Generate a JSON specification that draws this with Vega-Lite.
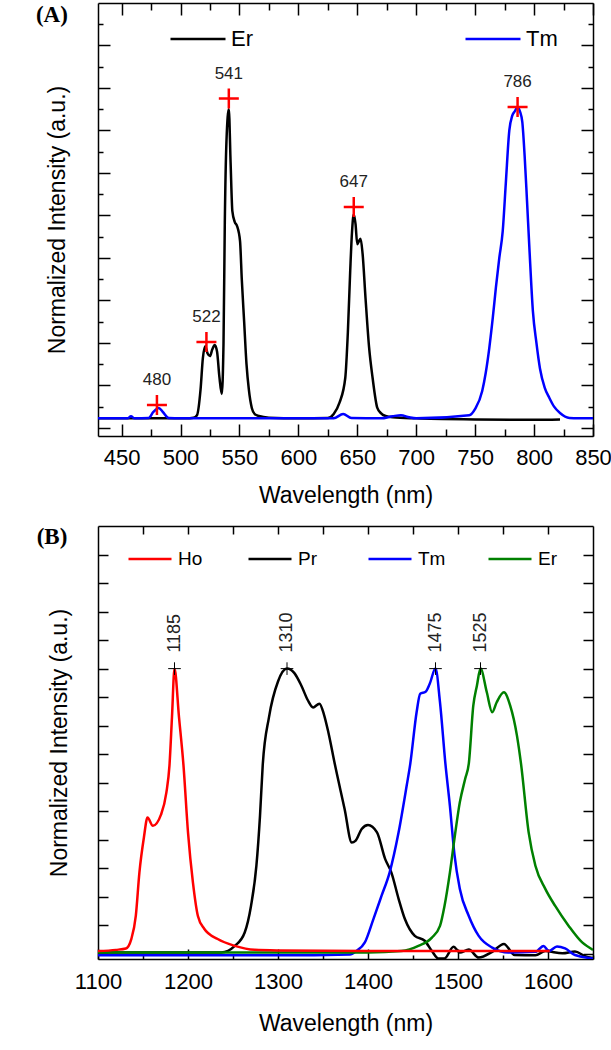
{
  "$schema": "https://vega.github.io/schema/vega-lite/v6.json",
  "padding": {"left": 35, "top": 2, "right": 2, "bottom": 2},
  "background": "white",
  "config": {
    "view": {"stroke": null},
    "axis": {"grid": false, "domainColor": "#000", "domainWidth": 1.5, "tickColor": "#000", "tickWidth": 1.5,
      "labelFont": "Liberation Sans", "labelFontSize": 22, "labelColor": "#000", "labelFlush": false, "labelOverlap": false, "labelBound": false,
      "titleFont": "Liberation Sans", "titleFontSize": 23, "titleFontWeight": "normal", "titleColor": "#000"},
    "legend": {"labelFont": "Liberation Sans", "labelColor": "#000"},
    "text": {"font": "Liberation Sans"}
  },
  "spacing": 18,
  "resolve": {"scale": {"color": "independent"}, "legend": {"color": "independent"}},
  "datasets": {
    "A": [
      {"s":"Er","x":430,"y":0.45},{"s":"Er","x":480,"y":0.45},{"s":"Er","x":505,"y":0.45},{"s":"Er","x":511,"y":0.48},{"s":"Er","x":514,"y":0.6},{"s":"Er","x":517,"y":1.8},{"s":"Er","x":519,"y":3.3},{"s":"Er","x":521,"y":3.85},{"s":"Er","x":523,"y":3.5},{"s":"Er","x":525,"y":3.38},{"s":"Er","x":527,"y":3.7},{"s":"Er","x":529,"y":3.9},{"s":"Er","x":531,"y":3.6},{"s":"Er","x":533,"y":2.4},{"s":"Er","x":535,"y":1.6},{"s":"Er","x":536.5,"y":4.0},{"s":"Er","x":537.6,"y":9.7},{"s":"Er","x":539,"y":13.5},{"s":"Er","x":541,"y":15.0},{"s":"Er","x":542.5,"y":12.5},{"s":"Er","x":544,"y":10.2},{"s":"Er","x":546,"y":9.7},{"s":"Er","x":548,"y":9.5},{"s":"Er","x":550.5,"y":8.8},{"s":"Er","x":552,"y":7.0},{"s":"Er","x":554,"y":5.0},{"s":"Er","x":556,"y":3.0},{"s":"Er","x":558,"y":1.8},{"s":"Er","x":560.5,"y":0.94},{"s":"Er","x":563,"y":0.65},{"s":"Er","x":566.5,"y":0.56},{"s":"Er","x":575,"y":0.48},{"s":"Er","x":600,"y":0.45},{"s":"Er","x":625,"y":0.47},{"s":"Er","x":630,"y":0.66},{"s":"Er","x":635,"y":1.2},{"s":"Er","x":639.8,"y":2.35},{"s":"Er","x":642,"y":4.5},{"s":"Er","x":644,"y":7.4},{"s":"Er","x":645.5,"y":9.2},{"s":"Er","x":647,"y":10.06},{"s":"Er","x":648.5,"y":9.6},{"s":"Er","x":650,"y":8.65},{"s":"Er","x":651.5,"y":8.8},{"s":"Er","x":652.8,"y":8.9},{"s":"Er","x":654.5,"y":8.2},{"s":"Er","x":657,"y":6.1},{"s":"Er","x":660,"y":3.8},{"s":"Er","x":663,"y":2.35},{"s":"Er","x":667,"y":0.94},{"s":"Er","x":670,"y":0.7},{"s":"Er","x":674,"y":0.56},{"s":"Er","x":680,"y":0.5},{"s":"Er","x":700,"y":0.45},{"s":"Er","x":750,"y":0.4},{"s":"Er","x":800,"y":0.38},{"s":"Er","x":822,"y":0.4},
      {"s":"Tm","x":430,"y":0.45},{"s":"Tm","x":455,"y":0.45},{"s":"Tm","x":458,"y":0.55},{"s":"Tm","x":461,"y":0.45},{"s":"Tm","x":473,"y":0.47},{"s":"Tm","x":477,"y":0.75},{"s":"Tm","x":481.5,"y":0.94},{"s":"Tm","x":485,"y":0.75},{"s":"Tm","x":490,"y":0.47},{"s":"Tm","x":500,"y":0.45},{"s":"Tm","x":600,"y":0.45},{"s":"Tm","x":630,"y":0.45},{"s":"Tm","x":638,"y":0.66},{"s":"Tm","x":645,"y":0.47},{"s":"Tm","x":670,"y":0.45},{"s":"Tm","x":680,"y":0.55},{"s":"Tm","x":687,"y":0.6},{"s":"Tm","x":694,"y":0.5},{"s":"Tm","x":700,"y":0.45},{"s":"Tm","x":745,"y":0.6},{"s":"Tm","x":750,"y":0.9},{"s":"Tm","x":756,"y":1.74},{"s":"Tm","x":759,"y":2.6},{"s":"Tm","x":762,"y":3.76},{"s":"Tm","x":765,"y":5.2},{"s":"Tm","x":767.6,"y":6.6},{"s":"Tm","x":770.5,"y":8.0},{"s":"Tm","x":773.4,"y":9.26},{"s":"Tm","x":776,"y":11.5},{"s":"Tm","x":779,"y":14.0},{"s":"Tm","x":781.5,"y":14.7},{"s":"Tm","x":783.6,"y":14.9},{"s":"Tm","x":786,"y":15.1},{"s":"Tm","x":788,"y":14.9},{"s":"Tm","x":790,"y":14.4},{"s":"Tm","x":792,"y":12.8},{"s":"Tm","x":794,"y":10.7},{"s":"Tm","x":796,"y":8.5},{"s":"Tm","x":799,"y":5.5},{"s":"Tm","x":802,"y":4.0},{"s":"Tm","x":805,"y":2.8},{"s":"Tm","x":809,"y":1.9},{"s":"Tm","x":813,"y":1.41},{"s":"Tm","x":817,"y":1.0},{"s":"Tm","x":822,"y":0.7},{"s":"Tm","x":830,"y":0.47},{"s":"Tm","x":850,"y":0.45}
    ],
    "Apk": [
      {"x":480,"y":1.08,"t":"480"},{"x":522,"y":4.04,"t":"522"},{"x":541,"y":15.5,"t":"541"},{"x":647,"y":10.4,"t":"647"},{"x":786,"y":15.1,"t":"786"}
    ],
    "Alab": [{"x":390.9,"y":19.42,"t":"(A)"}],
    "B": [
      {"s":"Pr","x":1100,"y":0.05},{"s":"Pr","x":1200,"y":0.05},{"s":"Pr","x":1237,"y":0.05},{"s":"Pr","x":1252,"y":0.28},{"s":"Pr","x":1263,"y":0.75},{"s":"Pr","x":1270,"y":1.68},{"s":"Pr","x":1276,"y":3.09},{"s":"Pr","x":1280,"y":4.84},{"s":"Pr","x":1283,"y":6.6},{"s":"Pr","x":1290,"y":8.3},{"s":"Pr","x":1300,"y":9.55},{"s":"Pr","x":1310,"y":10},{"s":"Pr","x":1318,"y":9.85},{"s":"Pr","x":1326,"y":9.4},{"s":"Pr","x":1333,"y":8.9},{"s":"Pr","x":1339,"y":8.64},{"s":"Pr","x":1346,"y":8.77},{"s":"Pr","x":1351,"y":8.4},{"s":"Pr","x":1356,"y":7.76},{"s":"Pr","x":1363,"y":6.67},{"s":"Pr","x":1374,"y":5.08},{"s":"Pr","x":1382,"y":3.9},{"s":"Pr","x":1386,"y":3.96},{"s":"Pr","x":1393,"y":4.38},{"s":"Pr","x":1400,"y":4.52},{"s":"Pr","x":1410,"y":4.26},{"s":"Pr","x":1419,"y":3.33},{"s":"Pr","x":1426,"y":2.85},{"s":"Pr","x":1434,"y":1.93},{"s":"Pr","x":1441,"y":1.22},{"s":"Pr","x":1452,"y":0.63},{"s":"Pr","x":1463,"y":0.46},{"s":"Pr","x":1471,"y":0.1},{"s":"Pr","x":1478,"y":-0.16},{"s":"Pr","x":1485,"y":-0.16},{"s":"Pr","x":1495,"y":0.25},{"s":"Pr","x":1502,"y":0.05},{"s":"Pr","x":1512,"y":0.15},{"s":"Pr","x":1523,"y":-0.13},{"s":"Pr","x":1538,"y":0.07},{"s":"Pr","x":1551,"y":0.35},{"s":"Pr","x":1563,"y":-0.04},{"s":"Pr","x":1586,"y":-0.05},{"s":"Pr","x":1597,"y":0.1},{"s":"Pr","x":1616,"y":0.02},{"s":"Pr","x":1630,"y":0.08},{"s":"Pr","x":1641,"y":-0.08},{"s":"Pr","x":1650,"y":-0.15},
      {"s":"Tm","x":1100,"y":-0.05},{"s":"Tm","x":1300,"y":-0.05},{"s":"Tm","x":1380,"y":-0.02},{"s":"Tm","x":1387,"y":0.1},{"s":"Tm","x":1396.5,"y":0.4},{"s":"Tm","x":1406,"y":1.22},{"s":"Tm","x":1415,"y":2.03},{"s":"Tm","x":1424,"y":2.85},{"s":"Tm","x":1434,"y":4.26},{"s":"Tm","x":1443,"y":5.9},{"s":"Tm","x":1447,"y":6.67},{"s":"Tm","x":1454,"y":8.47},{"s":"Tm","x":1458,"y":9.12},{"s":"Tm","x":1464,"y":9.19},{"s":"Tm","x":1468.6,"y":9.47},{"s":"Tm","x":1475,"y":10},{"s":"Tm","x":1480,"y":8.82},{"s":"Tm","x":1486,"y":6.67},{"s":"Tm","x":1491,"y":5.19},{"s":"Tm","x":1496,"y":3.5},{"s":"Tm","x":1502,"y":2.28},{"s":"Tm","x":1512,"y":1.33},{"s":"Tm","x":1523,"y":0.63},{"s":"Tm","x":1538,"y":0.22},{"s":"Tm","x":1556,"y":0.05},{"s":"Tm","x":1586,"y":0.07},{"s":"Tm","x":1595,"y":0.28},{"s":"Tm","x":1601,"y":0.1},{"s":"Tm","x":1610,"y":0.26},{"s":"Tm","x":1619,"y":0.19},{"s":"Tm","x":1630,"y":-0.04},{"s":"Tm","x":1650,"y":-0.16},
      {"s":"Er","x":1100,"y":0.05},{"s":"Er","x":1300,"y":0.05},{"s":"Er","x":1400,"y":0.05},{"s":"Er","x":1437,"y":0.1},{"s":"Er","x":1456,"y":0.28},{"s":"Er","x":1471,"y":0.57},{"s":"Er","x":1480,"y":0.98},{"s":"Er","x":1485,"y":1.68},{"s":"Er","x":1491,"y":2.85},{"s":"Er","x":1496.5,"y":4.14},{"s":"Er","x":1502,"y":5.31},{"s":"Er","x":1508,"y":6.14},{"s":"Er","x":1512,"y":6.67},{"s":"Er","x":1517,"y":8.7},{"s":"Er","x":1521,"y":9.4},{"s":"Er","x":1525,"y":10},{"s":"Er","x":1532,"y":9.17},{"s":"Er","x":1538,"y":8.47},{"s":"Er","x":1543,"y":8.82},{"s":"Er","x":1551,"y":9.17},{"s":"Er","x":1558,"y":8.7},{"s":"Er","x":1565.5,"y":7.65},{"s":"Er","x":1570,"y":6.67},{"s":"Er","x":1578.5,"y":4.26},{"s":"Er","x":1586,"y":3.09},{"s":"Er","x":1597,"y":2.28},{"s":"Er","x":1608,"y":1.68},{"s":"Er","x":1623,"y":0.98},{"s":"Er","x":1638,"y":0.4},{"s":"Er","x":1650,"y":0.14},
      {"s":"Ho","x":1100,"y":0.1},{"s":"Ho","x":1120,"y":0.14},{"s":"Ho","x":1131,"y":0.19},{"s":"Ho","x":1137,"y":0.52},{"s":"Ho","x":1142,"y":1.33},{"s":"Ho","x":1146,"y":2.85},{"s":"Ho","x":1151,"y":4.08},{"s":"Ho","x":1155,"y":4.78},{"s":"Ho","x":1161,"y":4.49},{"s":"Ho","x":1170,"y":4.88},{"s":"Ho","x":1176,"y":5.66},{"s":"Ho","x":1179.4,"y":6.6},{"s":"Ho","x":1182.2,"y":8.3},{"s":"Ho","x":1185,"y":10},{"s":"Ho","x":1190,"y":8.3},{"s":"Ho","x":1195,"y":6.6},{"s":"Ho","x":1200,"y":4.26},{"s":"Ho","x":1205.5,"y":2.5},{"s":"Ho","x":1211,"y":1.33},{"s":"Ho","x":1218,"y":0.88},{"s":"Ho","x":1233,"y":0.52},{"s":"Ho","x":1252,"y":0.28},{"s":"Ho","x":1274,"y":0.14},{"s":"Ho","x":1300,"y":0.12},{"s":"Ho","x":1400,"y":0.1},{"s":"Ho","x":1500,"y":0.1},{"s":"Ho","x":1602,"y":0.1}
    ],
    "Bpk": [
      {"x":1185,"y":10,"t":"1185"},{"x":1310,"y":10,"t":"1310"},{"x":1475,"y":10,"t":"1475"},{"x":1525,"y":10,"t":"1525"}
    ],
    "Blab": [{"x":1048.9,"y":14.61,"t":"(B)"}]
  },
  "vconcat": [
    {
      "width": 495, "height": 433,
      "resolve": {"axis": {"x": "independent", "y": "independent"}},
      "layer": [
        {
          "data": {"name": "A"},
          "mark": {"type": "line", "interpolate": "monotone", "strokeWidth": 2.5},
          "encoding": {
            "x": {"field": "x", "type": "quantitative", "scale": {"domain": [430, 850], "nice": false, "zero": false},
              "axis": {"orient": "bottom", "title": "Wavelength (nm)", "format": "d", "values": [450,475,500,525,550,575,600,625,650,675,700,725,750,775,800,825,850],
                "labelExpr": "datum.value % 50 === 0 ? datum.label : ''",
                "tickSize": {"condition": {"test": "datum.value % 50 === 0", "value": -12}, "value": -7},
                "labelPadding": 23, "titlePadding": 11}},
            "y": {"field": "y", "type": "quantitative", "scale": {"domain": [-0.38, 20], "nice": false, "zero": false},
              "axis": {"orient": "left", "title": "Normalized Intensity (a.u.)", "labels": false,
                "values": [0,1,2,3,4,5,6,7,8,9,10,11,12,13,14,15,16,17,18,19],
                "tickSize": {"condition": {"test": "datum.value % 2 === 0", "value": -12}, "value": -5},
                "titlePadding": 28}},
            "color": {"field": "s", "type": "nominal", "scale": {"domain": ["Er", "Tm"], "range": ["#000000", "#0000ff"]},
              "legend": {"orient": "none", "legendX": 71, "legendY": 7, "direction": "horizontal", "title": null,
                "symbolType": "stroke", "symbolSize": 3025, "symbolStrokeWidth": 2.5, "labelFontSize": 22,
                "labelOffset": 4, "columnPadding": 207, "padding": 0}}
          }
        },
        {
          "data": {"name": "Apk"},
          "mark": {"type": "point", "shape": "M-1,0L1,0M0,-1L0,1", "size": 400, "stroke": "#ff0000", "strokeWidth": 2.5, "filled": false, "opacity": 1},
          "encoding": {
            "x": {"field": "x", "type": "quantitative",
              "axis": {"orient": "top", "title": null, "labels": false, "values": [450,475,500,525,550,575,600,625,650,675,700,725,750,775,800,825,850],
                "tickSize": {"condition": {"test": "datum.value % 50 === 0", "value": -12}, "value": -7}}},
            "y": {"field": "y", "type": "quantitative",
              "axis": {"orient": "right", "title": null, "labels": false, "values": [0,1,2,3,4,5,6,7,8,9,10,11,12,13,14,15,16,17,18,19],
                "tickSize": {"condition": {"test": "datum.value % 2 === 0", "value": -12}, "value": -5}}}
          }
        },
        {
          "data": {"name": "Apk"},
          "mark": {"type": "text", "dy": -25, "fontSize": 17, "color": "#222"},
          "encoding": {
            "x": {"field": "x", "type": "quantitative", "axis": null},
            "y": {"field": "y", "type": "quantitative", "axis": null},
            "text": {"field": "t"}
          }
        },
        {
          "data": {"name": "Alab"},
          "mark": {"type": "text", "font": "Liberation Serif", "fontWeight": "bold", "fontSize": 23, "color": "#000"},
          "encoding": {
            "x": {"field": "x", "type": "quantitative", "axis": null},
            "y": {"field": "y", "type": "quantitative", "axis": null},
            "text": {"field": "t"}
          }
        }
      ]
    },
    {
      "width": 495, "height": 433,
      "resolve": {"axis": {"x": "independent", "y": "independent"}},
      "layer": [
        {
          "data": {"name": "B"},
          "mark": {"type": "line", "interpolate": "monotone", "strokeWidth": 2.5, "clip": true},
          "encoding": {
            "x": {"field": "x", "type": "quantitative", "scale": {"domain": [1100, 1650], "nice": false, "zero": false},
              "axis": {"orient": "bottom", "title": "Wavelength (nm)", "format": "d", "values": [1100,1150,1200,1250,1300,1350,1400,1450,1500,1550,1600,1650],
                "labelExpr": "datum.value % 100 === 0 ? datum.label : ''",
                "tickSize": {"condition": {"test": "datum.value % 100 === 0", "value": -10}, "value": -4},
                "labelPadding": 22, "titlePadding": 14}},
            "y": {"field": "y", "type": "quantitative", "scale": {"domain": [-0.18, 15], "nice": false, "zero": false},
              "axis": {"orient": "left", "title": "Normalized Intensity (a.u.)", "labels": false,
                "values": [0,1,2,3,4,5,6,7,8,9,10,11,12,13,14], "tickSize": -10, "titlePadding": 26}},
            "color": {"field": "s", "type": "nominal", "scale": {"domain": ["Ho", "Pr", "Tm", "Er"], "range": ["#ff0000", "#000000", "#0000ff", "#008000"]},
              "legend": {"orient": "none", "legendX": 29, "legendY": 10, "direction": "horizontal", "columns": 4, "gridAlign": "all", "title": null,
                "symbolType": "stroke", "symbolSize": 1849, "symbolStrokeWidth": 2.5, "labelFontSize": 19,
                "labelOffset": 5, "columnPadding": 37, "padding": 0}}
          }
        },
        {
          "data": {"name": "Bpk"},
          "mark": {"type": "point", "shape": "M-1,0L1,0M0,-1L0,1", "size": 160, "stroke": "#000000", "strokeWidth": 1, "filled": false, "opacity": 1},
          "encoding": {
            "x": {"field": "x", "type": "quantitative",
              "axis": {"orient": "top", "title": null, "labels": false, "values": [1150,1200,1250,1300,1350,1400,1450,1500,1550,1600], "tickSize": -8}},
            "y": {"field": "y", "type": "quantitative",
              "axis": {"orient": "right", "title": null, "labels": false, "values": [0,1,2,3,4,5,6,7,8,9,10,11,12,13,14], "tickSize": -10}}
          }
        },
        {
          "data": {"name": "Bpk"},
          "mark": {"type": "text", "angle": 270, "align": "left", "baseline": "middle", "dx": 16, "fontSize": 18, "color": "#222"},
          "encoding": {
            "x": {"field": "x", "type": "quantitative", "axis": null},
            "y": {"field": "y", "type": "quantitative", "axis": null},
            "text": {"field": "t"}
          }
        },
        {
          "data": {"name": "Blab"},
          "mark": {"type": "text", "font": "Liberation Serif", "fontWeight": "bold", "fontSize": 23, "color": "#000"},
          "encoding": {
            "x": {"field": "x", "type": "quantitative", "axis": null},
            "y": {"field": "y", "type": "quantitative", "axis": null},
            "text": {"field": "t"}
          }
        }
      ]
    }
  ]
}
